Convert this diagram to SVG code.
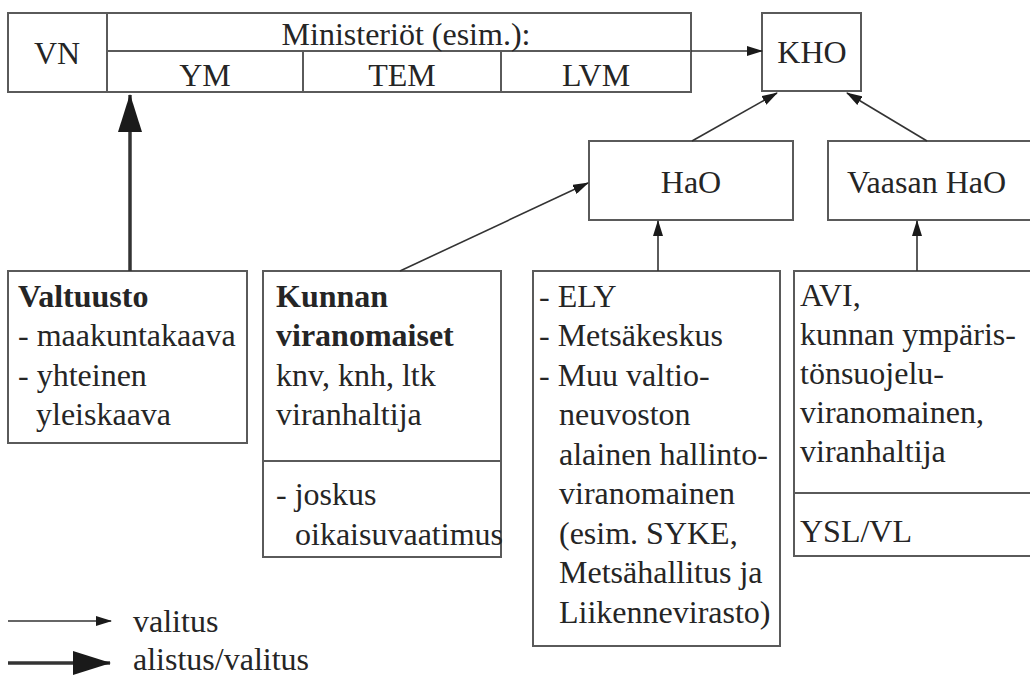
<svg xmlns="http://www.w3.org/2000/svg" width="1030" height="677" viewBox="0 0 1030 677">
<style>
.box{fill:#fff;stroke:#5a5a5a;stroke-width:2}
.ln{stroke:#5a5a5a;stroke-width:2;fill:none}
text{font-family:'Liberation Serif','Times New Roman',serif;font-size:32px;fill:#252525}
.c{text-anchor:middle}
.b{font-weight:bold}
.thin{stroke:#333;stroke-width:1.6;fill:none}
.thick{stroke:#333;stroke-width:3.5;fill:none}
</style>
<defs>
<marker id="ah" markerUnits="userSpaceOnUse" markerWidth="16" markerHeight="10" refX="15" refY="5" orient="auto">
<path d="M0,0 L16,5 L0,10 Z" fill="#1a1a1a"/>
</marker>
<marker id="ahb" markerUnits="userSpaceOnUse" markerWidth="38" markerHeight="24" refX="37" refY="12" orient="auto">
<path d="M0,0 L38,12 L0,24 Z" fill="#1a1a1a"/>
</marker>
</defs>
<rect width="1030" height="677" fill="#fff"/>

<g id="vn-ministeriot">
<rect class="box" x="8" y="13" width="683" height="79"/>
<line class="ln" x1="107" y1="13" x2="107" y2="92"/>
<line class="ln" x1="107" y1="51" x2="691" y2="51"/>
<line class="ln" x1="303" y1="51" x2="303" y2="92"/>
<line class="ln" x1="501" y1="51" x2="501" y2="92"/>
<text class="c" x="57" y="64">VN</text>
<text class="c" x="406" y="45">Ministeriöt (esim.):</text>
<text class="c" x="205" y="86">YM</text>
<text class="c" x="402" y="86">TEM</text>
<text class="c" x="596" y="86">LVM</text>
</g>

<g id="kho">
<rect class="box" x="762" y="13" width="99" height="78"/>
<text class="c" x="812" y="63">KHO</text>
</g>

<g id="hao">
<rect class="box" x="589" y="141" width="204" height="79"/>
<text class="c" x="691" y="193">HaO</text>
</g>

<g id="vaasan-hao">
<rect class="box" x="828" y="141" width="210" height="79"/>
<text x="847" y="193">Vaasan HaO</text>
</g>

<g id="valtuusto">
<rect class="box" x="8" y="271" width="239" height="172"/>
<text class="b" x="18" y="307">Valtuusto</text>
<text x="18" y="346">- maakuntakaava</text>
<text x="18" y="386">- yhteinen</text>
<text x="36" y="425">yleiskaava</text>
</g>

<g id="kunnan">
<rect class="box" x="263" y="271" width="238" height="286"/>
<line class="ln" x1="263" y1="461" x2="501" y2="461"/>
<text class="b" x="276" y="307">Kunnan</text>
<text class="b" x="276" y="346">viranomaiset</text>
<text x="276" y="386">knv, knh, ltk</text>
<text x="276" y="425">viranhaltija</text>
<text x="276" y="505">- joskus</text>
<text x="295" y="545">oikaisuvaatimus</text>
</g>

<g id="ely">
<rect class="box" x="533" y="271" width="247" height="375"/>
<text x="539" y="307">- ELY</text>
<text x="539" y="346">- Metsäkeskus</text>
<text x="539" y="386">- Muu valtio-</text>
<text x="559" y="425">neuvoston</text>
<text x="559" y="465">alainen hallinto-</text>
<text x="559" y="504">viranomainen</text>
<text x="559" y="544">(esim. SYKE,</text>
<text x="559" y="583">Metsähallitus ja</text>
<text x="559" y="623">Liikennevirasto)</text>
</g>

<g id="avi">
<rect class="box" x="794" y="271" width="244" height="285"/>
<line class="ln" x1="794" y1="493" x2="1038" y2="493"/>
<text x="800" y="306">AVI,</text>
<text x="800" y="345">kunnan ympäris-</text>
<text x="800" y="384">tönsuojelu-</text>
<text x="800" y="423">viranomainen,</text>
<text x="800" y="462">viranhaltija</text>
<text x="800" y="542">YSL/VL</text>
</g>

<g id="connectors">
<line class="thin" x1="691" y1="51" x2="762" y2="51" marker-end="url(#ah)"/>
<line class="thin" x1="692" y1="141" x2="777" y2="93" marker-end="url(#ah)"/>
<line class="thin" x1="927" y1="141" x2="847" y2="93" marker-end="url(#ah)"/>
<line class="thin" x1="400" y1="271" x2="588" y2="183" marker-end="url(#ah)"/>
<line class="thin" x1="658" y1="271" x2="658" y2="221" marker-end="url(#ah)"/>
<line class="thin" x1="917" y1="271" x2="917" y2="221" marker-end="url(#ah)"/>
<line class="thick" x1="130" y1="271" x2="130" y2="95" marker-end="url(#ahb)"/>
</g>

<g id="legend">
<line class="thin" x1="8" y1="621" x2="111" y2="621" marker-end="url(#ah)"/>
<text x="133" y="632">valitus</text>
<line class="thick" x1="8" y1="663" x2="110" y2="663" marker-end="url(#ahb)"/>
<text x="133" y="670">alistus/valitus</text>
</g>
</svg>
